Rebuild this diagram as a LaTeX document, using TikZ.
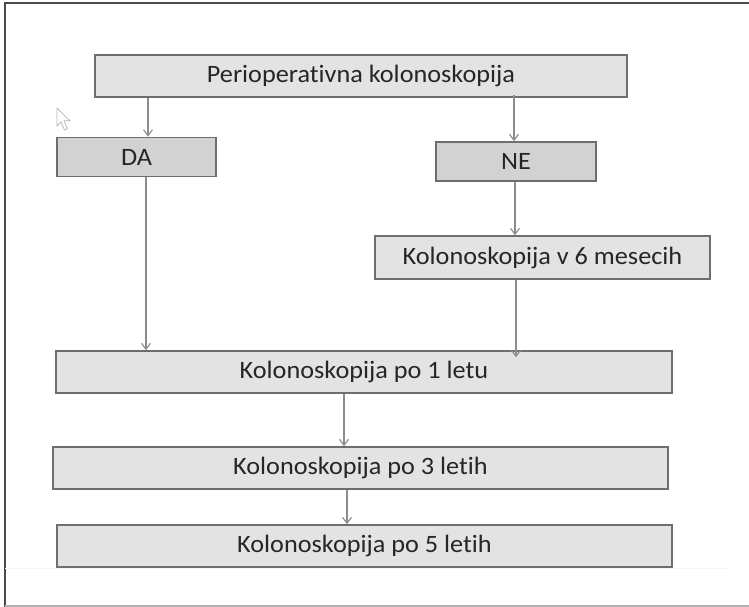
\documentclass[tikz,border=0pt]{standalone}
\usepackage{fontspec}
\usetikzlibrary{arrows.meta}
\newfontfamily\boxfont[FakeStretch=1.05,Ligatures=CommonOff]{Carlito}
\definecolor{frameline}{HTML}{4A4A4A}
\definecolor{boxedge}{HTML}{6E6E6E}
\definecolor{boxfill}{HTML}{E3E3E3}
\definecolor{choicefill}{HTML}{D2D2D2}
\definecolor{arrowgray}{HTML}{8C8C8C}
\definecolor{textgray}{HTML}{262626}
\tikzset{
  stepbox/.style={draw=boxedge, line width=1.6pt, fill=boxfill, inner sep=0pt,
    text=textgray, font=\boxfont\fontsize{25}{28}\selectfont},
  choicebox/.style={stepbox, fill=choicefill},
  arr/.style={draw=arrowgray, line width=1.1pt,
    -{Straight Barb[length=6pt,width=9pt,line width=1.1pt]}},
}
\begin{document}
\begin{tikzpicture}[x=1pt,y=-1pt]
  \useasboundingbox (0,0) rectangle (749,607);
  \fill[white] (0,0) rectangle (749,607);
  % page frame
  \draw[frameline, line width=2pt] (4.5,607) -- (4.5,3.5) -- (749,3.5);
  \draw[gray!60, line width=1.5pt] (4.5,606) -- (749,606);
  \draw[gray!7, line width=1pt] (5,568) -- (729,568);

  % pointer cursor
  \draw[gray!55, line width=0.8pt, line join=round]
    (57,108) -- (57,126) -- (61,122) -- (64.5,130) -- (67.5,128.7) -- (64,120.8) -- (70,120.8) -- cycle;

  % flowchart boxes
  \node[stepbox, minimum width=532pt, minimum height=42pt] (peri) at (361,76) {Perioperativna kolonoskopija};
  \node[choicebox, minimum width=159pt, minimum height=39pt] (da) at (136.5,157) {DA};
  \node[choicebox, minimum width=160pt, minimum height=39pt] (ne) at (516,161.5) {NE};
  \node[stepbox, minimum width=335pt, minimum height=43pt] (k6) at (542.5,257.5) {Kolonoskopija v 6 mesecih};
  \node[stepbox, minimum width=616pt, minimum height=42pt] (k1) at (364,372) {Kolonoskopija po 1 letu};
  \node[stepbox, minimum width=615pt, minimum height=42pt] (k3) at (360.5,468) {Kolonoskopija po 3 letih};
  \node[stepbox, minimum width=615pt, minimum height=42pt] (k5) at (364.5,546) {Kolonoskopija po 5 letih};

  % connectors
  \draw[arr] (peri.south -| 148,0) -- (da.north -| 148,0);
  \draw[arr] ([yshift=3pt]peri.south -| 514,0) -- (ne.north -| 514,0);
  \draw[arr] (da.south -| 146,0) -- (k1.north -| 146,0);
  \draw[arr] (ne.south -| 515,0) -- (k6.north -| 515,0);
  \draw[arr] (k6.south -| 516,0) -- ([yshift=-7pt]k1.north -| 516,0);
  \draw[arr] (k1.south -| 344,0) -- (k3.north -| 344,0);
  \draw[arr] (k3.south -| 347,0) -- (k5.north -| 347,0);
\end{tikzpicture}
\end{document}
